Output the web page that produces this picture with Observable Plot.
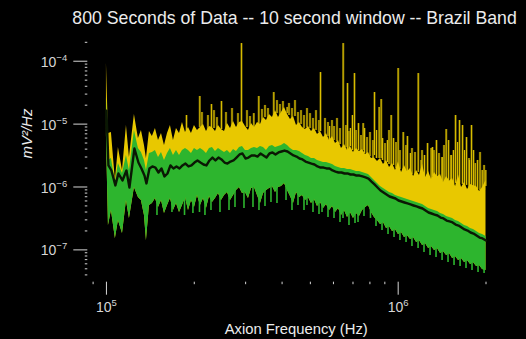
<!DOCTYPE html>
<html><head><meta charset="utf-8">
<script src="https://cdn.jsdelivr.net/npm/d3@7"></script>
<script src="https://cdn.jsdelivr.net/npm/@observablehq/plot@0.6"></script>
<style>
html,body{margin:0;padding:0;background:#000;}
#chart{width:526px;height:339px;overflow:hidden;}
</style></head><body><div id="chart"></div>
<script>
const title = "800 Seconds of Data -- 10 second window -- Brazil Band";
const xLabel = "Axion Frequency (Hz)";
const yLabel = "mV²/Hz";
const xTicks = [1e5, 1e6];
const yTicks = [1e-4, 1e-5, 1e-6, 1e-7];

const freq = [
1.000e5,1.016e5,1.040e5,1.073e5,1.099e5,1.135e5,1.171e5,1.199e5,1.247e5,1.287e5,
1.318e5,1.350e5,1.371e5,1.404e5,1.437e5,1.472e5,1.508e5,1.544e5,1.581e5,1.619e5,
1.657e5,1.697e5,1.738e5,1.780e5,1.822e5,1.866e5,1.911e5,1.956e5,2.003e5,2.051e5,
2.100e5,2.151e5,2.202e5,2.255e5,2.309e5,2.364e5,2.421e5,2.479e5,2.539e5,2.599e5,
2.662e5,2.726e5,2.791e5,2.858e5,2.926e5,2.996e5,3.068e5,3.142e5,3.217e5,3.294e5,
3.373e5,3.454e5,3.537e5,3.621e5,3.708e5,3.797e5,3.888e5,3.981e5,4.077e5,4.175e5,
4.274e5,4.377e5,4.482e5,4.589e5,4.699e5,4.812e5,4.927e5,5.045e5,5.166e5,5.290e5,
5.417e5,5.547e5,5.679e5,5.816e5,5.955e5,6.098e5,6.244e5,6.393e5,6.547e5,6.704e5,
6.864e5,7.028e5,7.197e5,7.369e5,7.545e5,7.727e5,7.912e5,8.101e5,8.295e5,8.494e5,
8.698e5,8.906e5,9.120e5,9.339e5,9.562e5,9.791e5,1.002e6,1.027e6,1.051e6,1.076e6,
1.102e6,1.129e6,1.156e6,1.183e6,1.212e6,1.241e6,1.271e6,1.301e6,1.332e6,1.364e6,
1.397e6,1.430e6,1.465e6,1.500e6,1.536e6,1.573e6,1.610e6,1.649e6,1.688e6,1.729e6,
1.770e6,1.812e6,1.856e6,1.901e6,1.946e6,2.000e6];

// yellow band top
const upper = [
9.19e-5,7.09e-6,7.35e-6,1.27e-6,4.24e-6,1.83e-6,9.50e-6,2.94e-6,1.42e-5,5.90e-6,
7.91e-6,4.57e-6,2.84e-6,7.63e-6,6.35e-6,8.51e-6,5.48e-6,7.09e-6,4.57e-6,7.09e-6,
9.50e-6,5.48e-6,8.51e-6,7.09e-6,1.06e-5,7.35e-6,8.83e-6,7.09e-6,9.50e-6,7.91e-6,
8.83e-6,9.85e-6,7.63e-6,9.16e-6,8.83e-6,7.63e-6,9.50e-6,8.21e-6,7.63e-6,1.02e-5,
8.51e-6,1.10e-5,8.83e-6,1.06e-5,1.10e-5,9.16e-6,7.91e-6,1.02e-5,8.83e-6,1.06e-5,
9.85e-6,1.27e-5,1.14e-5,1.42e-5,1.27e-5,1.64e-5,1.27e-5,1.53e-5,1.84e-5,1.42e-5,
1.18e-5,1.32e-5,9.50e-6,1.06e-5,8.83e-6,8.21e-6,9.16e-6,7.63e-6,8.51e-6,6.83e-6,
7.63e-6,6.12e-6,7.09e-6,5.48e-6,6.35e-6,4.91e-6,5.48e-6,4.09e-6,4.74e-6,3.80e-6,
4.40e-6,3.54e-6,4.09e-6,3.67e-6,3.94e-6,3.30e-6,3.54e-6,2.84e-6,2.90e-6,2.54e-6,
2.84e-6,2.28e-6,2.64e-6,2.04e-6,2.36e-6,1.83e-6,2.50e-6,1.70e-6,2.20e-6,1.75e-6,
1.97e-6,1.47e-6,1.83e-6,1.52e-6,2.30e-6,1.42e-6,1.76e-6,1.32e-6,1.70e-6,1.45e-6,
1.58e-6,1.18e-6,1.47e-6,1.25e-6,1.36e-6,1.02e-6,1.55e-6,9.82e-7,1.18e-6,9.12e-7,
1.10e-6,1.05e-6,1.02e-6,8.48e-7,9.82e-7,1.27e-6];

// green band top
const greenTop = [
2.65e-5,2.64e-6,2.84e-6,1.18e-6,2.36e-6,1.64e-6,3.17e-6,1.83e-6,7.91e-6,4.09e-6,
3.54e-6,2.64e-6,1.83e-6,3.41e-6,3.54e-6,3.80e-6,2.94e-6,3.54e-6,2.64e-6,3.41e-6,
4.09e-6,3.17e-6,3.80e-6,3.17e-6,3.80e-6,4.09e-6,3.80e-6,3.41e-6,4.09e-6,3.80e-6,
4.09e-6,3.80e-6,3.41e-6,4.09e-6,4.24e-6,3.67e-6,4.09e-6,3.80e-6,3.54e-6,3.80e-6,
3.41e-6,3.94e-6,3.67e-6,4.24e-6,4.40e-6,3.80e-6,3.80e-6,4.09e-6,4.24e-6,4.09e-6,
4.40e-6,4.24e-6,3.80e-6,4.40e-6,4.57e-6,4.24e-6,4.40e-6,4.57e-6,4.91e-6,4.57e-6,
4.09e-6,3.80e-6,3.80e-6,3.67e-6,3.41e-6,3.17e-6,3.05e-6,2.84e-6,2.84e-6,2.64e-6,
2.54e-6,2.45e-6,2.45e-6,2.36e-6,2.28e-6,2.12e-6,2.04e-6,1.97e-6,1.97e-6,1.90e-6,
1.90e-6,1.83e-6,1.76e-6,1.76e-6,1.70e-6,1.64e-6,1.58e-6,1.42e-6,1.27e-6,1.14e-6,
1.02e-6,9.46e-7,8.80e-7,8.18e-7,7.88e-7,7.32e-7,7.06e-7,6.81e-7,6.56e-7,6.33e-7,
6.10e-7,5.88e-7,5.67e-7,5.47e-7,5.27e-7,4.90e-7,4.55e-7,4.39e-7,4.23e-7,4.08e-7,
3.79e-7,3.65e-7,3.40e-7,3.27e-7,3.16e-7,2.93e-7,2.83e-7,2.63e-7,2.44e-7,2.35e-7,
2.19e-7,2.11e-7,1.96e-7,1.82e-7,1.76e-7,1.63e-7];

// black mean line
const mean = [
1.64e-5,2.20e-6,1.83e-6,1.06e-6,1.64e-6,1.27e-6,1.83e-6,9.82e-7,4.09e-6,2.45e-6,
1.97e-6,1.52e-6,1.14e-6,1.97e-6,2.12e-6,2.04e-6,1.70e-6,1.97e-6,1.47e-6,1.64e-6,
2.20e-6,1.97e-6,2.12e-6,1.97e-6,2.20e-6,2.36e-6,2.12e-6,2.20e-6,2.45e-6,2.64e-6,
2.45e-6,2.28e-6,2.20e-6,2.64e-6,2.94e-6,2.64e-6,2.94e-6,2.74e-6,2.45e-6,2.36e-6,
2.54e-6,2.64e-6,2.94e-6,3.29e-6,3.41e-6,2.84e-6,2.94e-6,3.17e-6,3.17e-6,3.05e-6,
3.41e-6,3.17e-6,2.94e-6,3.41e-6,3.54e-6,3.29e-6,3.54e-6,3.67e-6,3.80e-6,3.67e-6,
3.41e-6,3.17e-6,3.05e-6,2.84e-6,2.74e-6,2.54e-6,2.45e-6,2.36e-6,2.28e-6,2.12e-6,
2.04e-6,2.04e-6,1.97e-6,1.97e-6,1.83e-6,1.76e-6,1.70e-6,1.70e-6,1.64e-6,1.64e-6,
1.58e-6,1.58e-6,1.52e-6,1.52e-6,1.47e-6,1.42e-6,1.36e-6,1.22e-6,1.10e-6,9.82e-7,
8.80e-7,8.18e-7,7.60e-7,7.06e-7,6.81e-7,6.56e-7,6.10e-7,5.88e-7,5.67e-7,5.47e-7,
5.27e-7,5.08e-7,4.90e-7,4.72e-7,4.55e-7,4.23e-7,3.93e-7,3.79e-7,3.65e-7,3.52e-7,
3.27e-7,3.16e-7,2.93e-7,2.83e-7,2.73e-7,2.53e-7,2.44e-7,2.27e-7,2.11e-7,2.03e-7,
1.89e-7,1.82e-7,1.69e-7,1.57e-7,1.52e-7,1.41e-7];

// green band bottom
const lower = [
6.59e-6,2.44e-7,4.23e-7,1.52e-7,2.93e-7,1.82e-7,6.10e-7,3.16e-7,9.82e-7,6.81e-7,
6.10e-7,3.52e-7,1.41e-7,5.08e-7,5.47e-7,6.56e-7,4.72e-7,6.10e-7,3.79e-7,5.08e-7,
6.56e-7,4.23e-7,5.47e-7,3.93e-7,5.08e-7,6.81e-7,4.23e-7,6.10e-7,4.72e-7,7.32e-7,
5.08e-7,6.56e-7,4.55e-7,7.06e-7,5.67e-7,6.56e-7,7.88e-7,6.10e-7,7.32e-7,8.18e-7,
6.10e-7,7.32e-7,8.80e-7,9.82e-7,7.88e-7,8.18e-7,6.56e-7,9.46e-7,9.82e-7,7.32e-7,
5.47e-7,7.88e-7,8.80e-7,9.46e-7,1.02e-6,8.18e-7,9.82e-7,1.02e-6,1.14e-6,8.80e-7,
7.06e-7,5.47e-7,8.18e-7,6.81e-7,7.32e-7,6.10e-7,6.81e-7,5.47e-7,6.33e-7,4.90e-7,
5.67e-7,4.55e-7,5.27e-7,4.23e-7,4.90e-7,3.93e-7,4.55e-7,3.52e-7,4.23e-7,3.27e-7,
3.93e-7,3.16e-7,3.79e-7,3.40e-7,4.23e-7,4.72e-7,5.08e-7,3.93e-7,3.27e-7,2.93e-7,
2.53e-7,2.73e-7,2.19e-7,2.35e-7,1.96e-7,2.11e-7,1.76e-7,1.89e-7,1.57e-7,1.69e-7,
1.46e-7,1.57e-7,1.31e-7,1.41e-7,1.17e-7,1.26e-7,1.05e-7,1.13e-7,9.78e-8,1.05e-7,
8.77e-8,9.43e-8,8.15e-8,8.77e-8,7.30e-8,7.85e-8,6.78e-8,7.30e-8,6.31e-8,6.78e-8,
5.86e-8,6.31e-8,5.45e-8,5.65e-8,4.88e-8,4.70e-8];

// narrow peaks rising above the yellow band (tall and medium)
const spikeFreq = [
1.881e5,2.089e5,2.291e5,2.479e5,2.903e5,3.200e5,3.328e5,3.746e5,4.165e5,5.417e5,
5.816e5,6.479e5,6.704e5,6.864e5,6.973e5,7.083e5,7.311e5,7.587e5,8.295e5,8.427e5,
8.609e5,8.746e5,9.192e5,9.465e5,9.638e5,1.000e6,1.041e6,1.076e6,1.102e6,1.172e6,
1.199e6,1.261e6,1.298e6,1.311e6,1.353e6,1.416e6,1.461e6,1.488e6,1.520e6,1.573e6,
1.623e6,1.662e6,1.715e6,1.756e6,1.784e6,1.837e6,1.942e6,1.996e6,
2.125e5,2.228e5,2.337e5,2.392e5,2.569e5,2.694e5,2.824e5,3.032e5,3.105e5,3.413e5,
3.495e5,3.579e5,3.842e5,3.934e5,4.028e5,4.224e5,4.325e5,4.429e5,4.535e5,4.644e5,
4.755e5,4.869e5,4.986e5,5.105e5,5.227e5,5.353e5,5.613e5,5.747e5,5.931e5,6.026e5,
6.170e5,6.318e5,6.625e5,6.782e5,7.169e5,7.456e5,7.666e5,7.819e5,8.006e5,8.198e5,
8.837e5,9.013e5,9.302e5,9.830e5,1.014e6,1.064e6,1.115e6,1.142e6,1.207e6,1.231e6,
1.326e6,1.380e6,1.414e6,1.436e6,1.518e6,1.548e6,1.598e6,1.688e6,1.749e6,1.812e6,
1.871e6,1.908e6,1.970e6];
const spikeTop = [
1.37e-5,2.75e-5,2.05e-5,2.29e-5,1.91e-4,1.47e-5,2.75e-5,3.18e-5,1.84e-5,6.61e-5,
9.16e-6,1.91e-4,4.42e-5,8.51e-6,1.37e-5,6.37e-5,1.02e-5,1.02e-5,3.18e-5,7.91e-6,
1.84e-5,2.46e-5,5.48e-6,1.37e-5,5.90e-6,7.66e-5,7.35e-6,6.35e-6,3.41e-6,6.37e-5,
2.64e-6,4.91e-6,4.09e-6,4.24e-6,5.48e-6,2.94e-6,8.21e-6,5.48e-6,3.17e-6,1.37e-5,
1.14e-5,9.50e-6,6.12e-6,2.64e-6,9.50e-6,2.36e-6,1.83e-6,1.83e-6,
1.53e-5,1.37e-5,1.64e-5,1.27e-5,1.53e-5,1.77e-5,1.47e-5,1.64e-5,1.32e-5,1.71e-5,
1.98e-5,1.77e-5,2.37e-5,2.05e-5,2.29e-5,2.13e-5,1.77e-5,2.37e-5,1.53e-5,1.64e-5,
1.37e-5,1.77e-5,1.47e-5,1.23e-5,1.64e-5,1.14e-5,1.23e-5,1.06e-5,1.14e-5,9.16e-6,
1.23e-5,8.51e-6,9.50e-6,7.63e-6,7.91e-6,6.59e-6,8.51e-6,6.12e-6,7.35e-6,5.48e-6,
5.90e-6,4.91e-6,7.91e-6,5.10e-6,3.80e-6,4.57e-6,4.09e-6,3.54e-6,3.80e-6,3.17e-6,
3.80e-6,3.41e-6,2.94e-6,4.57e-6,3.17e-6,3.80e-6,5.10e-6,3.80e-6,2.84e-6,3.80e-6,
2.64e-6,3.54e-6,2.20e-6];
const spikeBase = [
7.35e-6,8.83e-6,8.83e-6,8.21e-6,1.06e-5,8.83e-6,9.85e-6,1.27e-5,1.47e-5,7.63e-6,
5.48e-6,4.40e-6,3.80e-6,4.40e-6,3.80e-6,3.54e-6,3.80e-6,3.80e-6,3.17e-6,2.84e-6,
2.84e-6,2.84e-6,2.45e-6,2.20e-6,2.20e-6,2.04e-6,1.83e-6,1.70e-6,1.36e-6,1.70e-6,
1.27e-6,1.52e-6,1.27e-6,1.47e-6,1.42e-6,1.18e-6,1.27e-6,1.27e-6,1.10e-6,1.14e-6,
1.14e-6,1.10e-6,1.06e-6,1.02e-6,1.02e-6,9.46e-7,9.46e-7,1.02e-6,
8.83e-6,7.91e-6,8.51e-6,7.91e-6,7.91e-6,8.83e-6,9.16e-6,8.83e-6,7.91e-6,9.85e-6,
1.27e-5,1.14e-5,1.47e-5,1.27e-5,1.53e-5,1.37e-5,1.18e-5,1.32e-5,9.50e-6,9.85e-6,
8.51e-6,8.83e-6,8.51e-6,7.91e-6,7.91e-6,7.35e-6,6.59e-6,6.35e-6,5.90e-6,5.48e-6,
5.29e-6,4.74e-6,4.24e-6,4.09e-6,3.80e-6,3.67e-6,3.41e-6,3.29e-6,3.05e-6,2.84e-6,
2.64e-6,2.45e-6,2.28e-6,1.97e-6,1.90e-6,1.70e-6,1.58e-6,1.58e-6,1.47e-6,1.42e-6,
1.36e-6,1.27e-6,1.22e-6,1.18e-6,1.14e-6,1.10e-6,1.06e-6,1.02e-6,9.82e-7,9.46e-7,
9.12e-7,8.80e-7,8.80e-7];

// narrow dips below the green band
const dipFreq = [
1.490e5,1.677e5,1.852e5,1.979e5,2.084e5,2.176e5,2.282e5,2.450e5,2.631e5,2.758e5,
2.961e5,3.179e5,3.333e5,3.495e5,3.664e5,3.842e5,4.126e5,4.325e5,4.535e5,4.755e5,
4.869e5,5.105e5,5.353e5,5.482e5,5.747e5,6.026e5,6.318e5,6.469e5,6.782e5,7.112e5,
7.283e5,7.635e5,8.037e5,8.394e5,8.802e5,9.229e5,9.677e5,1.014e6,1.064e6,1.115e6,
1.170e6,1.226e6,1.286e6,1.348e6,1.414e6,1.482e6,1.554e6,1.630e6,1.708e6,1.791e6,
1.878e6,1.970e6];
const dipBottom = [
3.52e-7,3.93e-7,3.52e-7,3.79e-7,3.93e-7,3.52e-7,4.23e-7,3.93e-7,4.23e-7,4.72e-7,
4.55e-7,4.72e-7,4.23e-7,4.90e-7,5.67e-7,5.47e-7,6.10e-7,4.23e-7,5.08e-7,4.23e-7,
5.08e-7,3.93e-7,3.65e-7,3.93e-7,3.27e-7,3.16e-7,2.73e-7,3.16e-7,2.44e-7,2.63e-7,
2.73e-7,3.40e-7,3.16e-7,2.35e-7,2.03e-7,1.76e-7,1.57e-7,1.41e-7,1.31e-7,1.13e-7,
1.05e-7,9.09e-8,8.15e-8,7.57e-8,6.78e-8,6.31e-8,5.65e-8,5.45e-8,5.06e-8,4.70e-8,
4.38e-8,4.22e-8];
const dipBase = [
8.18e-7,8.80e-7,8.80e-7,8.18e-7,9.12e-7,8.18e-7,9.46e-7,9.82e-7,1.10e-6,1.10e-6,
1.18e-6,1.27e-6,1.10e-6,1.18e-6,1.36e-6,1.27e-6,1.42e-6,9.82e-7,1.06e-6,9.46e-7,
8.80e-7,8.18e-7,7.32e-7,7.32e-7,6.81e-7,6.33e-7,5.67e-7,5.47e-7,5.08e-7,4.90e-7,
5.08e-7,6.10e-7,6.10e-7,4.39e-7,3.65e-7,3.16e-7,2.73e-7,2.53e-7,2.27e-7,2.03e-7,
1.89e-7,1.69e-7,1.52e-7,1.36e-7,1.26e-7,1.17e-7,1.05e-7,9.78e-8,9.09e-8,8.47e-8,
7.57e-8,6.78e-8];

const n = Math.min(freq.length, upper.length, greenTop.length, mean.length, lower.length);
const rows = d3.range(n).map(i => ({f: freq[i], up: upper[i], gt: greenTop[i], mid: mean[i], low: lower[i]}));
const spikes = d3.range(Math.min(spikeFreq.length, spikeTop.length, spikeBase.length))
  .map(i => ({f: spikeFreq[i], top: spikeTop[i], base: spikeBase[i]}));
const dips = d3.range(Math.min(dipFreq.length, dipBottom.length, dipBase.length))
  .map(i => ({f: dipFreq[i], bottom: dipBottom[i], base: dipBase[i]}));

const xDomain = [9e4, 2e6];
const yDomain = [4e-8, 2e-4];
const isDecade = v => Math.abs(Math.log10(v) - Math.round(Math.log10(v))) < 1e-6;
const xMinor = d3.scaleLog().domain(xDomain).ticks().filter(v => !isDecade(v));
const yMinor = d3.scaleLog().domain(yDomain).ticks().filter(v => !isDecade(v));

const axisColor = "#d6d6d6";
const textColor = "#ececec";
const yellow = "#e8c800";
const green = "#2db52e";
const fmt = v => "10^" + Math.round(Math.log10(v));

const plot = Plot.plot({
  width: 526, height: 339,
  marginLeft: 92.6, marginRight: 40.5, marginTop: 41.8, marginBottom: 64.6,
  style: {background: "#000", color: axisColor, fontFamily: "'Liberation Sans', Arial, Helvetica, sans-serif", fontSize: "14px", overflow: "visible"},
  x: {type: "log", domain: xDomain, axis: null},
  y: {type: "log", domain: yDomain, axis: null},
  marks: [
    Plot.ruleX(spikes, {x: "f", y1: "base", y2: "top", stroke: "#5e5300", strokeWidth: 2.4}),
    Plot.ruleX(spikes, {x: "f", y1: "base", y2: "top", stroke: "#dcbf00", strokeWidth: 1}),
    Plot.areaY(rows, {x: "f", y1: "low", y2: "up", fill: yellow}),
    Plot.ruleX(dips, {x: "f", y1: "bottom", y2: "base", stroke: green, strokeWidth: 1.6}),
    Plot.areaY(rows, {x: "f", y1: "low", y2: "gt", fill: green}),
    Plot.lineY(rows, {x: "f", y: "mid", stroke: "#0a1804", strokeWidth: 2.4}),
    Plot.axisY(yTicks, {anchor: "left", label: null, tickSize: 14, tickPadding: 6.6, dx: -5.3, tickFormat: fmt, fontSize: 14}),
    Plot.axisY(yMinor, {anchor: "left", label: null, tickSize: 2.5, dx: -5.3, tickFormat: () => ""}),
    Plot.axisX(xTicks, {anchor: "bottom", label: null, tickSize: 13, tickPadding: 7, dy: 7.3, tickFormat: fmt, fontSize: 14}),
    Plot.axisX(xMinor, {anchor: "bottom", label: null, tickSize: 2.5, dy: 7.3, tickFormat: () => ""}),
    Plot.text([title], {text: d => d, frameAnchor: "top", dx: 5, dy: -18.8, lineAnchor: "bottom", fontSize: 17.7, fill: textColor}),
    Plot.text([xLabel], {text: d => d, frameAnchor: "bottom", dx: 6.7, dy: 58.6, lineAnchor: "bottom", fontSize: 14.8, fill: textColor}),
    Plot.text([yLabel], {text: d => d, frameAnchor: "left", dx: -61.1, rotate: -90, lineAnchor: "bottom", fontSize: 15, fontStyle: "italic", fill: textColor})
  ]
});

// render exponents as superscripts
d3.select(plot).selectAll("text").each(function () {
  const t = this.textContent;
  if (!/^10\^-?\d+$/.test(t)) return;
  const [b, e] = t.split("^");
  const isY = e.startsWith("-");
  this.textContent = b;
  if (isY) this.setAttribute("y", "0.4em");
  d3.select(this).append("tspan").attr("dy", -6).attr("font-size", 9.5).text(e.replace("-", "\u2212"));
});

document.getElementById("chart").appendChild(plot);
</script>
</body></html>
